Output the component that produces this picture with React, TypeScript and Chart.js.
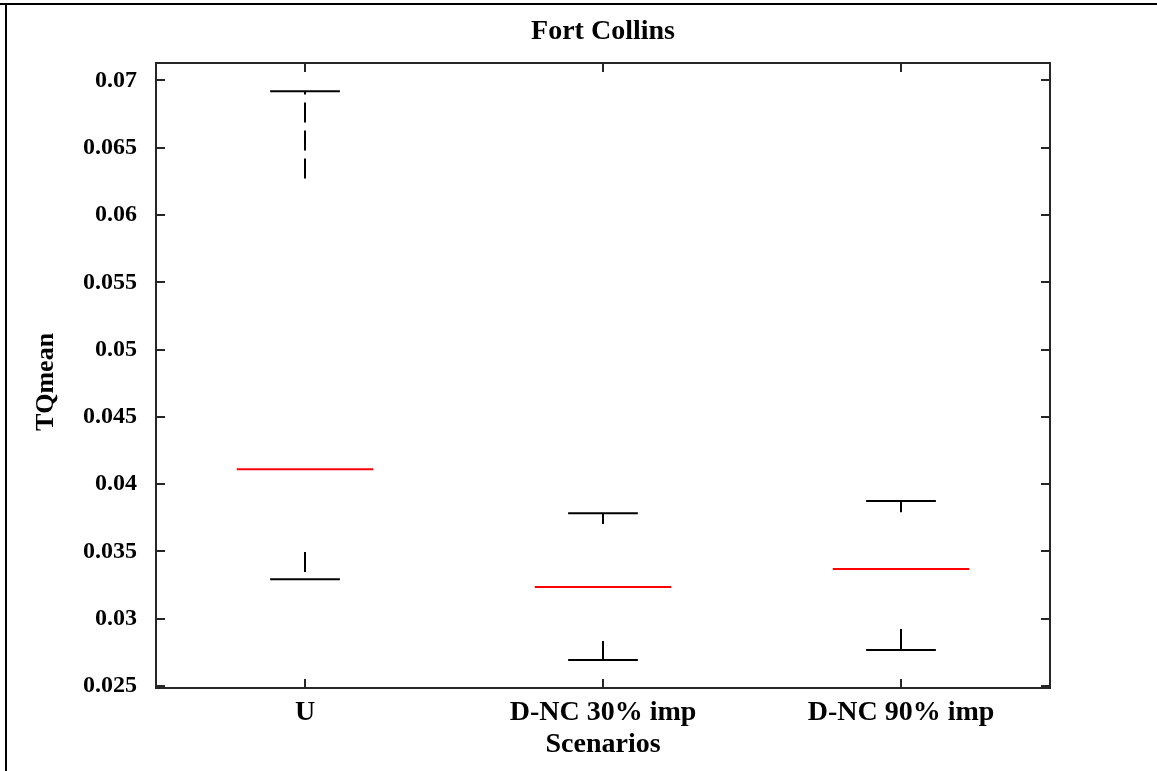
import React, { useEffect, useRef } from "react";
import { Chart, registerables } from "chart.js";

Chart.register(...registerables);

// Scenario names along the x axis
const scenarios = ["U", "D-NC 30% imp", "D-NC 90% imp"];

// Box-plot statistics per scenario (TQmean)
const upperAdjacent = [0.0692, 0.03784, 0.03874];
const upperQuartile = [0.06272, 0.03703, 0.03792];
const medians = [0.04111, 0.03235, 0.03369];
const lowerQuartile = [0.03495, 0.02834, 0.02923];
const lowerAdjacent = [0.03294, 0.02693, 0.02767];

// Y axis ticks
const yTickValues = [0.025, 0.03, 0.035, 0.04, 0.045, 0.05, 0.055, 0.06, 0.065, 0.07];
const yTickLabels = ["0.025", "0.03", "0.035", "0.04", "0.045", "0.05", "0.055", "0.06", "0.065", "0.07"];

const Y_MIN = 0.02485;
const Y_MAX = 0.0713;

const CAP_HALF = 0.117;
const MEDIAN_HALF = 0.229;
const FONT_FAMILY = "'Liberation Serif', 'Times New Roman', serif";

type Pt = { x: number; y: number };

function segment(a: Pt, b: Pt, color: string, dash: number[]) {
  return {
    data: [a, b],
    showLine: true,
    borderColor: color,
    borderWidth: 2,
    borderDash: dash,
    borderCapStyle: "butt" as const,
    pointRadius: 0,
    pointHoverRadius: 0,
    tension: 0,
    fill: false,
  };
}

function buildDatasets() {
  const sets: any[] = [];
  scenarios.forEach((_, i) => {
    const xc = i + 1;
    // whiskers (dashed), from box edge outwards
    sets.push(segment({ x: xc, y: upperQuartile[i] }, { x: xc, y: upperAdjacent[i] }, "#000000", [20, 8]));
    sets.push(segment({ x: xc, y: lowerQuartile[i] }, { x: xc, y: lowerAdjacent[i] }, "#000000", [20, 8]));
    // caps
    sets.push(segment({ x: xc - CAP_HALF, y: upperAdjacent[i] }, { x: xc + CAP_HALF, y: upperAdjacent[i] }, "#000000", []));
    sets.push(segment({ x: xc - CAP_HALF, y: lowerAdjacent[i] }, { x: xc + CAP_HALF, y: lowerAdjacent[i] }, "#000000", []));
    // median
    sets.push(segment({ x: xc - MEDIAN_HALF, y: medians[i] }, { x: xc + MEDIAN_HALF, y: medians[i] }, "#ff0000", []));
  });
  return sets;
}

// Axes box with inward ticks on all four sides, plus the figure frame
const framePlugin = {
  id: "axesFrame",
  beforeDraw(chart: any) {
    const { ctx } = chart;
    ctx.save();
    ctx.fillStyle = "#ffffff";
    ctx.fillRect(0, 0, chart.width, chart.height);
    ctx.fillStyle = "#000000";
    ctx.fillRect(0, 3, chart.width, 2);
    ctx.fillRect(5, 3, 2, chart.height - 3);
    ctx.restore();
  },
  afterDatasetsDraw(chart: any) {
    const { ctx, chartArea } = chart;
    const { left, right, top, bottom } = chartArea;
    const xs = chart.scales.x;
    const ys = chart.scales.y;
    const tl = 9;
    ctx.save();
    ctx.strokeStyle = "#262626";
    ctx.lineWidth = 2;
    ctx.strokeRect(Math.round(left), Math.round(top), Math.round(right - left), Math.round(bottom - top));
    ctx.beginPath();
    ys.ticks.forEach((t: any) => {
      const py = Math.round(ys.getPixelForValue(t.value));
      ctx.moveTo(left, py);
      ctx.lineTo(left + tl, py);
      ctx.moveTo(right, py);
      ctx.lineTo(right - tl, py);
    });
    xs.ticks.forEach((t: any) => {
      const px = Math.round(xs.getPixelForValue(t.value));
      ctx.moveTo(px, top);
      ctx.lineTo(px, top + tl);
      ctx.moveTo(px, bottom);
      ctx.lineTo(px, bottom - tl);
    });
    ctx.stroke();
    ctx.restore();
  },
};

export default function App() {
  const canvasRef = useRef<HTMLCanvasElement | null>(null);

  useEffect(() => {
    document.body.style.margin = "0";
    const canvas = canvasRef.current;
    if (!canvas) return;
    const yTickFont = { family: FONT_FAMILY, size: 24, weight: "bold" as const };
    const xTickFont = { family: FONT_FAMILY, size: 28, weight: "bold" as const };
    const titleFont = { family: FONT_FAMILY, size: 28, weight: "bold" as const };
    const yTitleFont = { family: FONT_FAMILY, size: 26, weight: "bold" as const };

    const chart = new Chart(canvas, {
      type: "scatter",
      data: { datasets: buildDatasets() },
      options: {
        animation: false,
        responsive: false,
        devicePixelRatio: 1,
        layout: { padding: { left: 0, right: 107, top: 0, bottom: 0 } },
        plugins: {
          legend: { display: false },
          tooltip: { enabled: false },
          title: {
            display: true,
            text: "Fort Collins",
            fullSize: false,
            color: "#000000",
            font: titleFont,
            padding: { top: 15, bottom: 14.4 },
          },
        },
        scales: {
          x: {
            type: "linear",
            min: 0.5,
            max: 3.5,
            afterBuildTicks: (s: any) => {
              s.ticks = scenarios.map((_, i) => ({ value: i + 1 }));
            },
            afterFit: (s: any) => {
              s.height = 83;
            },
            grid: { display: false, drawTicks: false },
            border: { display: false },
            ticks: {
              autoSkip: false,
              maxRotation: 0,
              padding: 8,
              color: "#000000",
              font: xTickFont,
              callback: (_v: any, i: number) => scenarios[i],
            },
            title: {
              display: true,
              text: "Scenarios",
              color: "#000000",
              font: titleFont,
              padding: { top: 0, bottom: 9 },
            },
          },
          y: {
            type: "linear",
            min: Y_MIN,
            max: Y_MAX,
            afterBuildTicks: (s: any) => {
              s.ticks = yTickValues.map((v) => ({ value: v }));
            },
            afterFit: (s: any) => {
              s.width = 156;
            },
            grid: { display: false, drawTicks: false },
            border: { display: false },
            ticks: {
              autoSkip: false,
              padding: 19,
              color: "#000000",
              font: yTickFont,
              callback: (_v: any, i: number) => yTickLabels[i],
            },
            title: {
              display: true,
              text: "TQmean  ",
              color: "#000000",
              font: yTitleFont,
              padding: { top: 31, bottom: 0 },
            },
          },
        },
      },
      plugins: [framePlugin],
    });

    return () => chart.destroy();
  }, []);

  return (
    <div style={{ width: 1157, height: 771 }}>
      <canvas ref={canvasRef} width={1157} height={771} style={{ display: "block" }} />
    </div>
  );
}
